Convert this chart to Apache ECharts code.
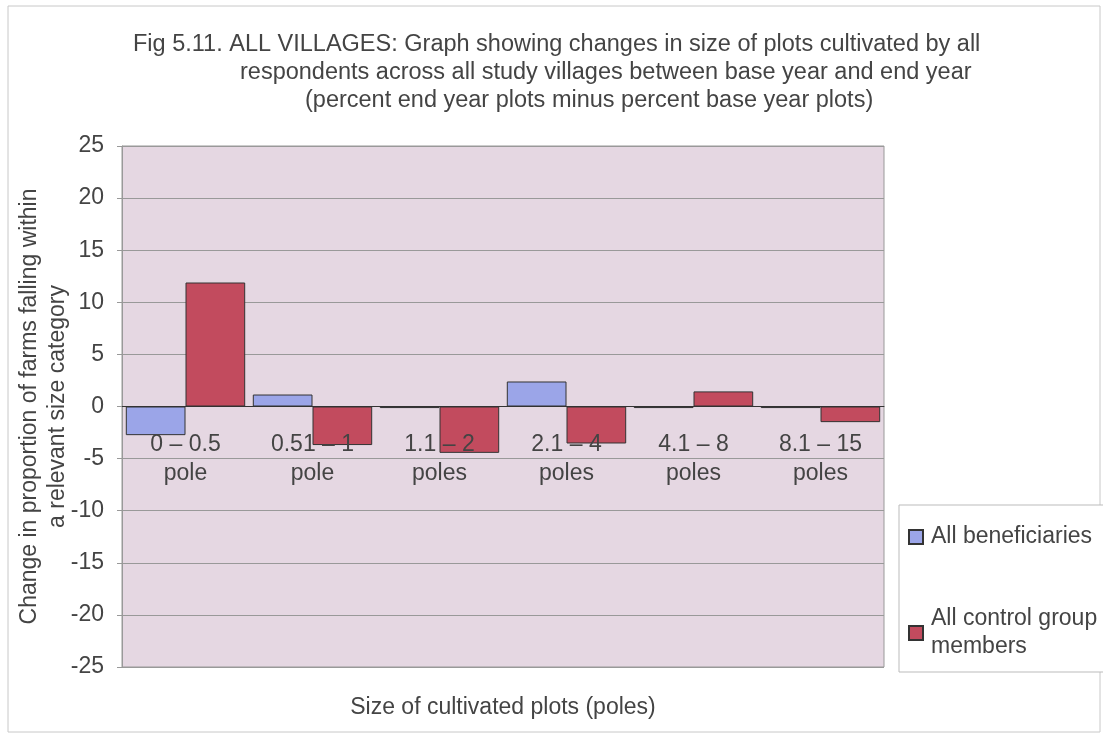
<!DOCTYPE html>
<html>
<head>
<meta charset="utf-8">
<script src="https://cdn.jsdelivr.net/npm/echarts@6/dist/echarts.min.js"></script>
<style>
  html, body { margin: 0; padding: 0; background: #fff; }
  #chart { width: 1103px; height: 735px; }
</style>
</head>
<body>
<div id="chart"></div>
<script>
// 数据
const categories = ["0 – 0.5\npole", "0.51 – 1\npole", "1.1 – 2\npoles", "2.1 – 4\npoles", "4.1 – 8\npoles", "8.1 – 15\npoles"];
const beneficiaries = [-2.75, 1.15, -0.15, 2.4, -0.15, -0.15];
const controlGroup = [11.9, -3.7, -4.45, -3.55, 1.45, -1.5];
const titleLines = [
  "Fig 5.11. ALL VILLAGES: Graph showing changes in size of plots cultivated by all",
  "respondents across all study villages between base year and end year",
  "(percent end year plots minus percent base year plots)"
];

const font = "Liberation Sans, Arial, sans-serif";
const fs = 23;
const chart = echarts.init(document.getElementById("chart"));

chart.setOption({
  animation: false,
  textStyle: { fontFamily: font },
  // 标题三行，各自位置
  title: [
    { text: titleLines[0], left: 133, top: 33 },
    { text: titleLines[1], left: 240, top: 61 },
    { text: titleLines[2], left: 305, top: 89 }
  ].map(t => ({
    text: t.text, left: t.left, top: t.top, padding: 0,
    textStyle: { fontFamily: font, fontSize: 23.5, fontWeight: "normal", color: "#444" }
  })),
  graphic: [
    // 外边框
    { type: "rect", shape: { x: 8, y: 6, width: 1092, height: 726 }, style: { fill: "none", stroke: "#c8c8c8", lineWidth: 1 }, z: -1 },
    // 图例边框
    { type: "rect", shape: { x: 899, y: 505, width: 210, height: 167 }, style: { fill: "#fff", stroke: "#bbb", lineWidth: 1 }, z: -1 }
  ],
  legend: {
    orient: "vertical",
    left: 903,
    top: 518,
    itemWidth: 14,
    itemHeight: 14,
    itemGap: 54,
    icon: "rect",
    textStyle: { fontFamily: font, fontSize: fs, color: "#444", lineHeight: 28, padding: [0, 0, 0, 3] },
    data: ["All beneficiaries", "All control group\nmembers"]
  },
  grid: { left: 122, right: 219, top: 146, bottom: 68, containLabel: false, outerBoundsMode: "none",
    show: true, backgroundColor: "#e5d7e2", borderColor: "#999", borderWidth: 1 },
  xAxis: {
    type: "category",
    data: categories,
    axisLine: { onZero: true, lineStyle: { color: "#333", width: 1 } },
    axisTick: { show: false },
    axisLabel: { show: false },
    name: "Size of cultivated plots (poles)",
    nameLocation: "middle",
    nameGap: 29,
    nameTextStyle: { fontFamily: font, fontSize: fs, color: "#444" }
  },
  yAxis: {
    type: "value",
    min: -25,
    max: 25,
    interval: 5,
    axisLine: { show: true, lineStyle: { color: "#999" } },
    axisTick: { show: true, length: 5, lineStyle: { color: "#999" } },
    axisLabel: { fontFamily: font, fontSize: fs, color: "#444", margin: 18 },
    splitLine: { lineStyle: { color: "#999", width: 1 } },
    name: "Change in proportion of farms falling within\na relevant size category",
    nameLocation: "middle",
    nameGap: 50,
    nameMoveOverlap: false,
    nameRotate: 90,
    nameTextStyle: { fontFamily: font, fontSize: fs, color: "#444", lineHeight: 28 }
  },
  series: [
    {
      name: "All beneficiaries",
      type: "bar",
      data: beneficiaries,
      barGap: "0%",
      barCategoryGap: "6%",
      itemStyle: { color: "#9ba5e8", borderColor: "#333", borderWidth: 1 }
    },
    {
      name: "All control group\nmembers",
      type: "bar",
      data: controlGroup,
      barGap: "0%",
      barCategoryGap: "6%",
      itemStyle: { color: "#c24b5e", borderColor: "#333", borderWidth: 1 }
    },
    {
      // 类目标签：贴在零线下方（Excel 样式）
      name: "labels",
      type: "scatter",
      data: categories.map(() => 0),
      symbolSize: 0,
      silent: true,
      z: 10,
      itemStyle: { opacity: 1 },
      label: {
        show: true,
        position: "bottom",
        distance: 24,
        formatter: p => categories[p.dataIndex],
        fontFamily: font,
        fontSize: fs,
        color: "#444",
        opacity: 1,
        lineHeight: 29,
        align: "center"
      }
    }
  ]
});
</script>
</body>
</html>
